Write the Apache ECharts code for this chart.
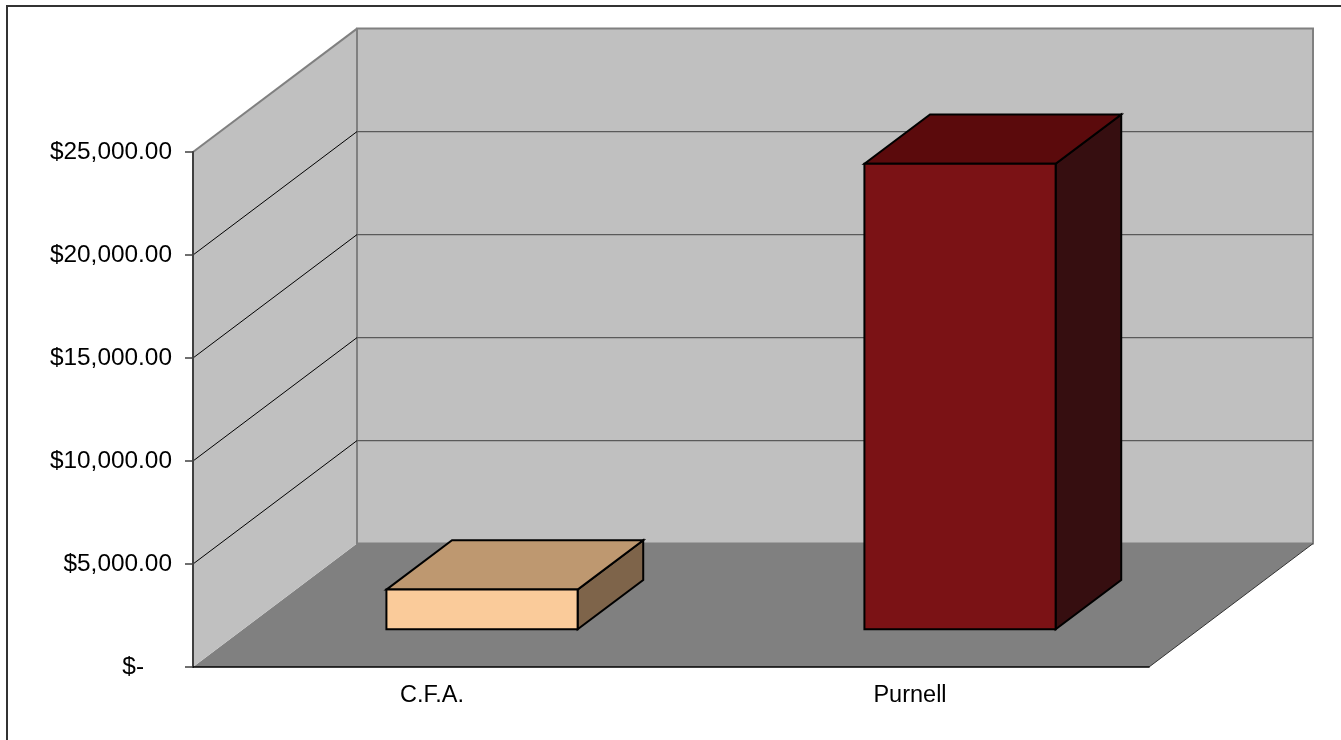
<!DOCTYPE html>
<html>
<head>
<meta charset="utf-8">
<title>C.F.A. vs Purnell</title>
<script src="https://cdn.jsdelivr.net/npm/echarts@6/dist/echarts.min.js"></script>
<style>
  html, body { margin: 0; padding: 0; background: #fff; }
  #chart { width: 1341px; height: 740px; }
</style>
</head>
<body>
<div id="chart"></div>
<script>
// data
const categories = ['C.F.A.', 'Purnell'];
const amounts = [1930, 22600];
const yTicks = [0, 5000, 10000, 15000, 20000, 25000];

// colours per bar: front / top / side
const barColors = [
  { front: '#FACB9A', top: '#BE9870', side: '#7E644A' },
  { front: '#7B1215', top: '#5B0A0C', side: '#360E10' }
];

// depth of the 3d box (pixel vector from front plane to back wall)
const DX = 164, DY = -123.4;
const D0 = 0.305, D1 = 0.705;   // bar front / back depth
const BAR_W = 0.4;              // bar width as part of category band
const FONT = 'Liberation Sans, Arial, sans-serif';

function money(v) {
  if (v === 0) return '{z|$-}';
  return '$' + v.toFixed(2).replace(/\B(?=(\d{3})+(?!\d))/g, ',');
}

let chart = echarts.init(document.getElementById('chart'));

// walls + floor
function renderWalls(params, api) {
  let cs = params.coordSys;
  let x0 = cs.x, x1 = cs.x + cs.width;
  let yT = api.coord([0, yTicks[yTicks.length - 1]])[1];
  let yB = api.coord([0, 0])[1];
  return {
    type: 'group',
    children: [
      {
        type: 'polygon',
        shape: { points: [[x0, yB], [x0 + DX, yB + DY], [x1 + DX, yB + DY], [x1, yB]] },
        style: { fill: '#808080' }
      },
      {
        type: 'polygon',
        shape: { points: [[x0, yT], [x0 + DX, yT + DY], [x0 + DX, yB + DY], [x0, yB]] },
        style: { fill: '#C0C0C0' }
      },
      {
        type: 'line',
        shape: { x1: x0, y1: yT, x2: x0 + DX, y2: yT + DY },
        style: { stroke: '#808080', lineWidth: 2 }
      },
      {
        type: 'rect',
        shape: { x: x0 + DX, y: yT + DY, width: x1 - x0, height: yB - yT },
        style: { fill: '#C0C0C0', stroke: '#808080', lineWidth: 2 }
      },
      {
        type: 'line',
        shape: { x1: x1, y1: yB, x2: x1 + DX, y2: yB + DY },
        style: { stroke: '#333', lineWidth: 1 }
      }
    ]
  };
}

// gridlines on side wall (black diagonal) and back wall (grey)
function renderGrid(params, api) {
  let cs = params.coordSys;
  let x0 = cs.x, x1 = cs.x + cs.width;
  let y = api.coord([0, api.value(1)])[1];
  return {
    type: 'group',
    children: [
      {
        type: 'line',
        shape: { x1: x0, y1: y, x2: x0 + DX, y2: y + DY },
        style: { stroke: '#000', lineWidth: 1 }
      },
      {
        type: 'line',
        shape: { x1: x0 + DX, y1: y + DY, x2: x1 + DX, y2: y + DY },
        style: { stroke: '#5a5a5a', lineWidth: 1.3 }
      }
    ]
  };
}

// 3d column
function renderBar(params, api) {
  let i = api.value(0);
  let top = api.coord([i, api.value(1)]);
  let base = api.coord([i, 0]);
  let w = api.size([1, 0])[0] * BAR_W;
  let c = barColors[params.dataIndex];
  let fx = base[0] - w / 2 + D0 * DX, fy = D0 * DY;
  let dx = (D1 - D0) * DX, dy = (D1 - D0) * DY;
  let L = fx, R = fx + w, T = top[1] + fy, B = base[1] + fy;
  let edge = { stroke: '#000', lineWidth: 2, lineJoin: 'miter' };
  return {
    type: 'group',
    children: [
      {
        type: 'polygon',
        shape: { points: [[R, T], [R + dx, T + dy], [R + dx, B + dy], [R, B]] },
        style: Object.assign({ fill: c.side }, edge)
      },
      {
        type: 'polygon',
        shape: { points: [[L, T], [L + dx, T + dy], [R + dx, T + dy], [R, T]] },
        style: Object.assign({ fill: c.top }, edge)
      },
      {
        type: 'rect',
        shape: { x: L, y: T, width: w, height: B - T },
        style: Object.assign({ fill: c.front }, edge)
      }
    ]
  };
}

let option = {
  animation: false,
  backgroundColor: '#fff',
  graphic: [
    {
      type: 'rect',
      shape: { x: 7, y: 6, width: 1400, height: 800 },
      style: { fill: 'none', stroke: '#333', lineWidth: 2 },
      z: 100
    }
  ],
  grid: { left: 193, right: 192, top: 152, bottom: 73 },
  xAxis: {
    type: 'category',
    data: categories,
    z: 10,
    axisLine: { lineStyle: { color: '#000', width: 1.5 } },
    axisTick: { length: 8, lineStyle: { color: '#555', width: 1.2 } },
    axisLabel: { color: '#000', fontSize: 23.5, fontFamily: FONT, margin: 17 },
    splitLine: { show: false }
  },
  yAxis: {
    type: 'value',
    min: yTicks[0],
    max: yTicks[yTicks.length - 1],
    interval: yTicks[1] - yTicks[0],
    z: 10,
    axisLine: { show: true, lineStyle: { color: '#404040', width: 2 } },
    axisTick: { show: true, length: 8, lineStyle: { color: '#404040', width: 1.5 } },
    axisLabel: {
      color: '#000', fontSize: 24.4, fontFamily: FONT, margin: 21,
      formatter: money,
      rich: { z: { fontSize: 24.4, fontFamily: FONT, color: '#000', padding: [0, 28, 0, 0] } }
    },
    splitLine: { show: false }
  },
  series: [
    { type: 'custom', name: 'walls', z: 1, silent: true, data: [[0, 0]], renderItem: renderWalls },
    { type: 'custom', name: 'grid', z: 2, silent: true,
      data: yTicks.slice(1, -1).map(v => [0, v]), renderItem: renderGrid },
    { type: 'custom', name: 'amount', z: 3,
      data: amounts.map((v, i) => [i, v]), renderItem: renderBar }
  ]
};

chart.setOption(option);
</script>
</body>
</html>
